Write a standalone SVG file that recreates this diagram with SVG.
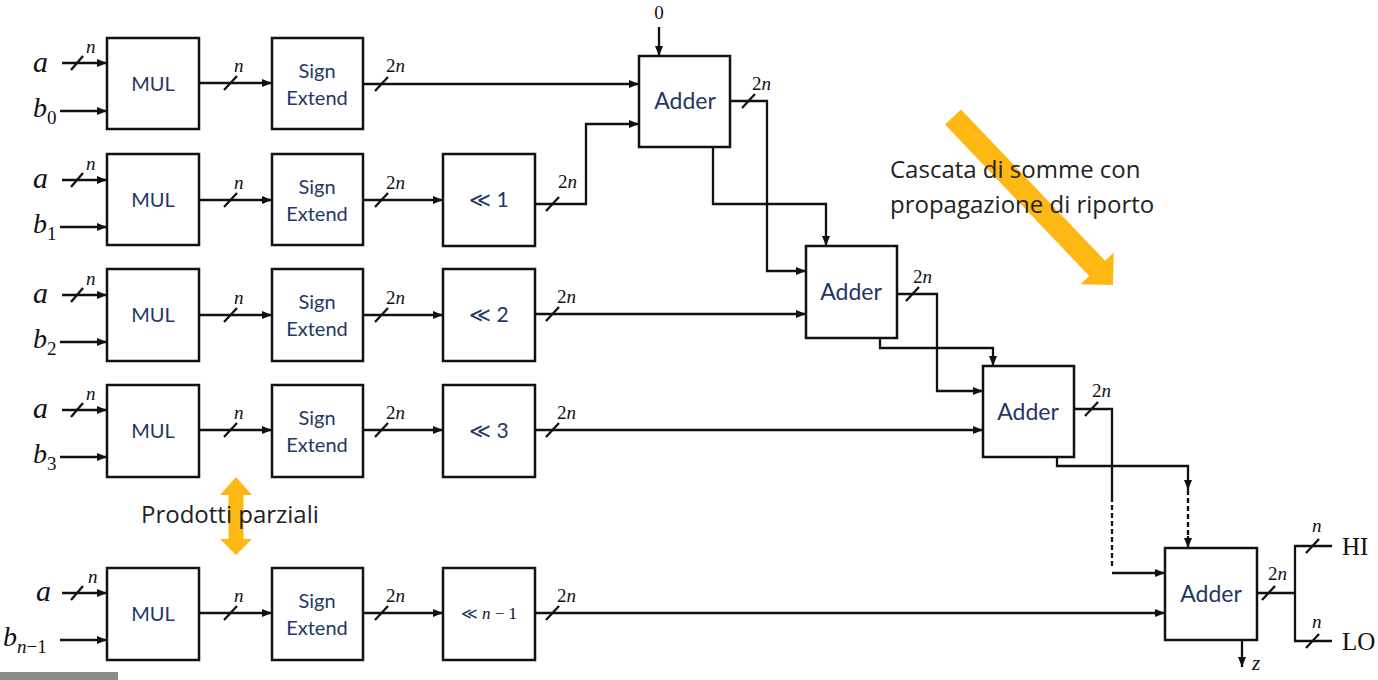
<svg xmlns="http://www.w3.org/2000/svg" width="1378" height="680" viewBox="0 0 1378 680">
<defs>
<style>
.box{fill:#fff;stroke:#111;stroke-width:2.5}
.w{fill:none;stroke:#111;stroke-width:2.3}
.wa{fill:none;stroke:#111;stroke-width:2.3;marker-end:url(#ah)}
.d{fill:none;stroke:#111;stroke-width:2.3;stroke-dasharray:5 3}
.sl{stroke:#111;stroke-width:2.3}
.bt{font-family:Lato,"Open Sans",sans-serif;fill:#1F3864;text-anchor:middle}
.m{font-family:"Liberation Serif","DejaVu Serif",serif;font-style:italic;fill:#111}
.mu{font-family:"Liberation Serif","DejaVu Serif",serif;font-style:normal;fill:#111}
.lab{font-family:"Open Sans",Lato,sans-serif;fill:#222;font-size:24px}
.or{fill:#FDB813}
</style>
<marker id="ah" viewBox="0 0 10 8" refX="10" refY="4" markerWidth="10" markerHeight="8" markerUnits="userSpaceOnUse" orient="auto"><path d="M0,0 L10,4 L0,8 z" fill="#111"/></marker>
</defs>
<rect width="1378" height="680" fill="#fff"/>

<!-- orange arrows (behind text) -->
<g id="arrow-cascata">
<polygon class="or" points="0,-11 209,-11 209,-23 232,0 209,23 209,11 0,11" transform="translate(953,117) rotate(46.4)"/>
</g>
<g id="arrow-prodotti">
<polygon class="or" points="236,477 252,495 243.5,495 243.5,539 252,539 236,555 220,539 228.5,539 228.5,495 220,495"/>
</g>

<g id="connectors">
<!-- row 0 -->
<line class="wa" x1="62" y1="63" x2="107" y2="63"/>
<line class="wa" x1="60" y1="111" x2="107" y2="111"/>
<line class="wa" x1="199" y1="83" x2="272" y2="83"/>
<line class="wa" x1="363" y1="84" x2="639" y2="84"/>
<!-- row 1 -->
<line class="wa" x1="62" y1="180" x2="107" y2="180"/>
<line class="wa" x1="60" y1="227" x2="107" y2="227"/>
<line class="wa" x1="199" y1="200" x2="272" y2="200"/>
<line class="wa" x1="363" y1="200" x2="443" y2="200"/>
<polyline class="wa" points="535,204 586,204 586,124 639,124"/>
<!-- row 2 -->
<line class="wa" x1="62" y1="295" x2="107" y2="295"/>
<line class="wa" x1="60" y1="342" x2="107" y2="342"/>
<line class="wa" x1="199" y1="315" x2="272" y2="315"/>
<line class="wa" x1="363" y1="315" x2="443" y2="315"/>
<line class="wa" x1="535" y1="314" x2="806" y2="314"/>
<!-- row 3 -->
<line class="wa" x1="62" y1="410" x2="107" y2="410"/>
<line class="wa" x1="60" y1="457" x2="107" y2="457"/>
<line class="wa" x1="199" y1="430" x2="272" y2="430"/>
<line class="wa" x1="363" y1="430" x2="443" y2="430"/>
<line class="wa" x1="535" y1="430" x2="983" y2="430"/>
<!-- row n-1 -->
<line class="wa" x1="62" y1="593" x2="107" y2="593"/>
<line class="wa" x1="60" y1="640" x2="107" y2="640"/>
<line class="wa" x1="199" y1="613" x2="272" y2="613"/>
<line class="wa" x1="363" y1="613" x2="443" y2="613"/>
<line class="wa" x1="535" y1="613" x2="1165" y2="613"/>
<!-- adders -->
<line class="wa" x1="659" y1="27" x2="659" y2="56"/>
<polyline class="wa" points="730,101 767,101 767,271 806,271"/>
<polyline class="wa" points="713,147 713,204 826,204 826,246"/>
<polyline class="wa" points="897,294 937,294 937,391 983,391"/>
<polyline class="wa" points="880,338 880,348 993,348 993,366"/>
<polyline class="w" points="1074,409 1112,409 1112,497"/>
<line class="d" x1="1112" y1="497" x2="1112" y2="566"/>
<line class="wa" x1="1112" y1="573" x2="1165" y2="573"/>
<polyline class="wa" points="1057,457 1057,466 1188,466 1188,490"/>
<line class="d" x1="1188" y1="490" x2="1188" y2="536"/>
<line class="wa" x1="1188" y1="536" x2="1188" y2="548"/>
<line class="w" x1="1257" y1="593" x2="1295" y2="593"/>
<line class="w" x1="1295" y1="546" x2="1295" y2="641"/>
<line class="w" x1="1294" y1="546" x2="1332" y2="546"/>
<line class="w" x1="1294" y1="641" x2="1332" y2="641"/>
<line class="wa" x1="1242" y1="640" x2="1242" y2="667"/>
<!-- bus slashes -->
<g class="sl">
<line x1="71" y1="70" x2="83" y2="56"/>
<line x1="71" y1="187" x2="83" y2="173"/>
<line x1="71" y1="302" x2="83" y2="288"/>
<line x1="71" y1="417" x2="83" y2="403"/>
<line x1="71" y1="600" x2="83" y2="586"/>
<line x1="224" y1="90" x2="237" y2="76"/>
<line x1="224" y1="207" x2="237" y2="193"/>
<line x1="224" y1="322" x2="237" y2="308"/>
<line x1="224" y1="437" x2="237" y2="423"/>
<line x1="224" y1="620" x2="237" y2="606"/>
<line x1="375" y1="91" x2="388" y2="77"/>
<line x1="375" y1="207" x2="388" y2="193"/>
<line x1="375" y1="322" x2="388" y2="308"/>
<line x1="375" y1="437" x2="388" y2="423"/>
<line x1="375" y1="620" x2="388" y2="606"/>
<line x1="546" y1="211" x2="559" y2="197"/>
<line x1="546" y1="321" x2="559" y2="307"/>
<line x1="546" y1="437" x2="559" y2="423"/>
<line x1="546" y1="620" x2="559" y2="606"/>
<line x1="742" y1="108" x2="755" y2="94"/>
<line x1="906" y1="301" x2="919" y2="287"/>
<line x1="1085" y1="416" x2="1098" y2="402"/>
<line x1="1262" y1="600" x2="1275" y2="586"/>
<line x1="1306" y1="553" x2="1319" y2="539"/>
<line x1="1306" y1="648" x2="1319" y2="634"/>
</g>
</g>

<!-- row 0 -->
<g id="mul0"><rect class="box" x="107" y="38" width="92" height="91"/><text class="bt" x="153" y="91" font-size="20">MUL</text></g>
<g id="se0"><rect class="box" x="272" y="38" width="91" height="91"/><text class="bt" x="317" y="78" font-size="20">Sign</text><text class="bt" x="317" y="105" font-size="20">Extend</text></g>
<!-- row 1 -->
<g id="mul1"><rect class="box" x="107" y="154" width="92" height="91"/><text class="bt" x="153" y="207" font-size="20">MUL</text></g>
<g id="se1"><rect class="box" x="272" y="154" width="91" height="91"/><text class="bt" x="317" y="194" font-size="20">Sign</text><text class="bt" x="317" y="221" font-size="20">Extend</text></g>
<g id="sh1"><rect class="box" x="443" y="154" width="92" height="92"/><text class="bt" x="489" y="207" font-size="21">≪ 1</text></g>
<!-- row 2 -->
<g id="mul2"><rect class="box" x="107" y="269" width="92" height="92"/><text class="bt" x="153" y="322" font-size="20">MUL</text></g>
<g id="se2"><rect class="box" x="272" y="269" width="91" height="92"/><text class="bt" x="317" y="309" font-size="20">Sign</text><text class="bt" x="317" y="336" font-size="20">Extend</text></g>
<g id="sh2"><rect class="box" x="443" y="269" width="92" height="92"/><text class="bt" x="489" y="322" font-size="21">≪ 2</text></g>
<!-- row 3 -->
<g id="mul3"><rect class="box" x="107" y="385" width="92" height="92"/><text class="bt" x="153" y="438" font-size="20">MUL</text></g>
<g id="se3"><rect class="box" x="272" y="385" width="91" height="92"/><text class="bt" x="317" y="425" font-size="20">Sign</text><text class="bt" x="317" y="452" font-size="20">Extend</text></g>
<g id="sh3"><rect class="box" x="443" y="385" width="92" height="92"/><text class="bt" x="489" y="438" font-size="21">≪ 3</text></g>
<!-- row n-1 -->
<g id="muln"><rect class="box" x="107" y="568" width="92" height="92"/><text class="bt" x="153" y="621" font-size="20">MUL</text></g>
<g id="sen"><rect class="box" x="272" y="568" width="91" height="92"/><text class="bt" x="317" y="608" font-size="20">Sign</text><text class="bt" x="317" y="635" font-size="20">Extend</text></g>
<g id="shn"><rect class="box" x="443" y="568" width="92" height="92"/><text class="bt" x="489" y="619" font-size="16">≪ <tspan class="m" font-size="17" fill="#1F3864">n</tspan><tspan class="mu" font-size="17" fill="#1F3864"> − 1</tspan></text></g>
<!-- adders -->
<g id="adder1"><rect class="box" x="639" y="56" width="91" height="91"/><text class="bt" x="685" y="109" font-size="23">Adder</text></g>
<g id="adder2"><rect class="box" x="806" y="246" width="91" height="92"/><text class="bt" x="851" y="300" font-size="23">Adder</text></g>
<g id="adder3"><rect class="box" x="983" y="366" width="91" height="91"/><text class="bt" x="1028" y="420" font-size="23">Adder</text></g>
<g id="adder4"><rect class="box" x="1165" y="548" width="92" height="92"/><text class="bt" x="1211" y="602" font-size="23">Adder</text></g>

<!-- input labels -->
<g id="labels">
<text class="m" x="33" y="72" font-size="30">a</text>
<text class="m" x="33" y="117" font-size="28">b<tspan class="mu" font-size="19" dy="7">0</tspan></text>
<text class="m" x="33" y="188" font-size="30">a</text>
<text class="m" x="33" y="233" font-size="28">b<tspan class="mu" font-size="19" dy="7">1</tspan></text>
<text class="m" x="33" y="303" font-size="30">a</text>
<text class="m" x="33" y="348" font-size="28">b<tspan class="mu" font-size="19" dy="7">2</tspan></text>
<text class="m" x="33" y="418" font-size="30">a</text>
<text class="m" x="33" y="463" font-size="28">b<tspan class="mu" font-size="19" dy="7">3</tspan></text>
<text class="m" x="36" y="601" font-size="30">a</text>
<text class="m" x="3" y="646" font-size="28">b<tspan font-size="19" dy="7">n</tspan><tspan class="mu" font-size="19">−1</tspan></text>

<g font-size="19">
<text class="m" x="86" y="53">n</text>
<text class="m" x="86" y="170">n</text>
<text class="m" x="86" y="285">n</text>
<text class="m" x="86" y="400">n</text>
<text class="m" x="88" y="583">n</text>
<text class="m" x="234" y="72">n</text>
<text class="m" x="234" y="189">n</text>
<text class="m" x="234" y="304">n</text>
<text class="m" x="234" y="419">n</text>
<text class="m" x="234" y="602">n</text>
<text class="m" x="386" y="72"><tspan class="mu">2</tspan>n</text>
<text class="m" x="386" y="189"><tspan class="mu">2</tspan>n</text>
<text class="m" x="386" y="304"><tspan class="mu">2</tspan>n</text>
<text class="m" x="386" y="419"><tspan class="mu">2</tspan>n</text>
<text class="m" x="386" y="602"><tspan class="mu">2</tspan>n</text>
<text class="m" x="558" y="188"><tspan class="mu">2</tspan>n</text>
<text class="m" x="557" y="303"><tspan class="mu">2</tspan>n</text>
<text class="m" x="557" y="419"><tspan class="mu">2</tspan>n</text>
<text class="m" x="557" y="602"><tspan class="mu">2</tspan>n</text>
<text class="m" x="752" y="90"><tspan class="mu">2</tspan>n</text>
<text class="m" x="913" y="283"><tspan class="mu">2</tspan>n</text>
<text class="m" x="1092" y="397"><tspan class="mu">2</tspan>n</text>
<text class="m" x="1268" y="580"><tspan class="mu">2</tspan>n</text>
<text class="m" x="1312" y="532">n</text>
<text class="m" x="1312" y="628">n</text>
</g>
<text class="mu" x="659" y="19" font-size="19" text-anchor="middle">0</text>
<text class="mu" x="1342" y="555" font-size="25">HI</text>
<text class="mu" x="1342" y="650" font-size="25">LO</text>
<text class="m" x="1252" y="670" font-size="21">z</text>
<text class="lab" x="890" y="178">Cascata di somme con</text>
<text class="lab" x="890" y="213">propagazione di riporto</text>
<text class="lab" x="141" y="523">Prodotti parziali</text>
</g>
<rect x="0" y="672" width="118" height="8" fill="#8c8c8c"/>
</svg>
